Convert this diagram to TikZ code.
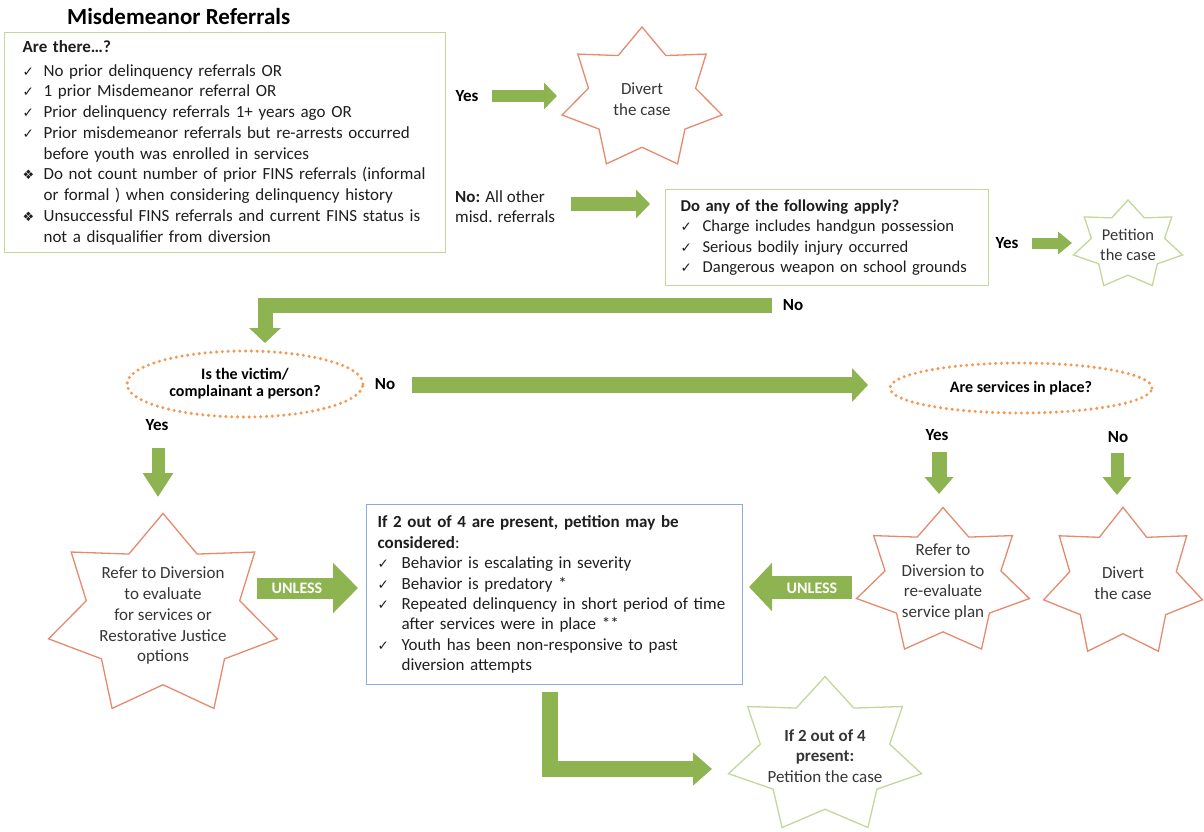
\documentclass[tikz,border=0pt]{standalone}
\usepackage{fontspec}
\setmainfont{Carlito}
\newfontfamily\sym{DejaVu Sans}
\usetikzlibrary{arrows.meta,shapes.geometric,calc}
\definecolor{agreen}{HTML}{8DB450}
\definecolor{olivel}{HTML}{C4D79B}
\definecolor{coral}{HTML}{E58A6E}
\definecolor{dorange}{HTML}{F39A55}
\definecolor{bluebox}{HTML}{8FAADC}
\definecolor{txt}{HTML}{1E1E1E}
\definecolor{stxt}{HTML}{363636}
\newcommand\ck[1][21pt]{\makebox[#1][l]{\sym\fontsize{13.5}{13}\selectfont ✓}}
\newcommand\dmd[1][21pt]{\makebox[#1][l]{\sym\fontsize{13}{13}\selectfont ❖}}
\newcommand\drawstar[4]{%
  \draw[#4, line width=1.3pt, line join=miter, shift={(#1.center)}]
    (90:#2pt and #3pt)
    \foreach \k in {1,...,13}{ -- ({90+\k*180/7}:{(1-0.33*mod(\k,2))*#2*1pt} and {(1-0.33*mod(\k,2))*#3*1pt}) } -- cycle;}
\begin{document}
\begin{tikzpicture}[x=1pt,y=-1pt,
  box/.style={draw=olivel, line width=1.2pt, inner sep=0pt, text=txt, align=left,
    font=\fontsize{17}{20.75}\selectfont},
  lbl/.style={font=\bfseries\fontsize{17}{20}\selectfont, text=black, inner sep=0pt},
  startext/.style={align=center, font=\fontsize{17}{20.75}\selectfont, text=stxt, inner sep=0pt},
  ell/.style={ellipse, draw=dorange, line width=3.4pt, dash pattern=on 0pt off 5.8pt, line cap=round,
    font=\bfseries\fontsize{16}{17}\selectfont, align=center, inner sep=0pt, text=black},
  fat/.style n args={3}{draw=agreen, line join=miter, line width=#1, -{Triangle[length=#2,width=#3]}},
  unl/.style={font=\bfseries\fontsize{16}{18}\selectfont, text=white, inner sep=0pt}]
\fill[white] (0,0) rectangle (1204,832);
\useasboundingbox (0,0) rectangle (1204,832);

% title
\node[font=\bfseries\fontsize{23}{26}\selectfont, anchor=base west, inner sep=0pt, text=black] (title) at (67,25) {Misdemeanor Referrals};

% box 1
\node[box, anchor=north west, minimum width=441pt, minimum height=220pt, text width=405pt, inner xsep=18pt] (q1) at (4,32) {%
\textbf{Are there…?}\\[3pt]
\ck No prior delinquency referrals OR\\
\ck 1 prior Misdemeanor referral OR\\
\ck Prior delinquency referrals 1+ years ago OR\\
\ck Prior misdemeanor referrals but re-arrests occurred\\
\hspace*{21pt}before youth was enrolled in services\\
\dmd Do not count number of prior FINS referrals (informal\\
\hspace*{21pt}or formal ) when considering delinquency history\\
\dmd Unsuccessful FINS referrals and current FINS status is\\
\hspace*{21pt}not a disqualifier from diversion};

% box 2
\node[box, anchor=north west, minimum width=323pt, minimum height=96pt, text width=293pt, inner xsep=15pt,
  font=\fontsize{16.6}{20.3}\selectfont] (q2) at (665,189) {%
\textbf{Do any of the following apply?}\\
\ck[22pt]Charge includes handgun possession\\
\ck[22pt]Serious bodily injury occurred\\
\ck[22pt]Dangerous weapon on school grounds};

% blue box
\node[box, draw=bluebox, anchor=north west, minimum width=376pt, minimum height=180pt, text width=354pt, inner xsep=11pt,
  font=\fontsize{17}{20.4}\selectfont] (q3) at (366,504) {%
\textbf{If 2 out of 4 are present, petition may be}\\
\textbf{considered}:\\
\ck[24pt]Behavior is escalating in severity\\
\ck[24pt]Behavior is predatory *\\
\ck[24pt]Repeated delinquency in short period of time\\
\hspace*{24pt}after services were in place **\\
\ck[24pt]Youth has been non-responsive to past\\
\hspace*{24pt}diversion attempts};

% ellipses
\node[ell, minimum width=236pt, minimum height=66pt] (e1) at (245,384) {Is the victim/\\complainant a person?};
\node[ell, minimum width=262pt, minimum height=50pt] (e2) at (1021,388) {Are services in place?};

% labels
\node[lbl] (yes1) at (467,96) {Yes};
\node[anchor=west, align=left, inner sep=0pt, text=txt, font=\fontsize{17}{20}\selectfont] (no1) at (455,207) {\textbf{No:} All other\\misd. referrals};
\node[lbl] (yes2) at (1007,243) {Yes};
\node[lbl] (no2) at (793,305) {No};
\node[lbl] (no3) at (385,384) {No};
\node[lbl] (yes3) at (157,425) {Yes};
\node[lbl] (yes4) at (937,435) {Yes};
\node[lbl] (no4) at (1118,437) {No};

% stars
\node[startext] (s1) at (642,99) {Divert\\the case};
\node[startext, font=\fontsize{16.5}{20}\selectfont] (s2) at (1128,245) {Petition\\the case};
\node[startext] (s3) at (163,616) {Refer to Diversion\\to evaluate\\for services or\\Restorative Justice\\options};
\node[startext] (s4) at (943,582) {Refer to\\Diversion to\\re-evaluate\\service plan};
\node[startext] (s5) at (1123,583) {Divert\\the case};
\node[startext] (s6) at (825,756) {\textbf{If 2 out of 4}\\\textbf{present:}\\Petition the case};
\drawstar{s1}{82}{72}{coral}
\drawstar{s2}{56}{45}{olivel}
\drawstar{s3}{117.4}{102.6}{coral}
\drawstar{s4}{88.7}{74.4}{coral}
\drawstar{s5}{81.5}{75.7}{coral}
\drawstar{s6}{99}{79.4}{olivel}

% arrow coordinates
\coordinate (a1s) at (492,96);  \coordinate (a1e) at (557,96);
\coordinate (a2s) at (571,204); \coordinate (a2e) at (650,204);
\coordinate (a3s) at (1032,243);\coordinate (a3e) at (1072,243);
\coordinate (a4s) at (772,305); \coordinate (a4e) at (265,343);
\coordinate (a5s) at (412,385); \coordinate (a5e) at (868,385);
\coordinate (a6s) at (158,448); \coordinate (a6e) at (158,497);
\coordinate (a7s) at (939,452); \coordinate (a7e) at (939,494);
\coordinate (a8s) at (1117,453);\coordinate (a8e) at (1117,495);
\coordinate (a9s) at (257,588); \coordinate (a9e) at (358,588);
\coordinate (a10s) at (852,587);\coordinate (a10e) at (749,587);
\coordinate (a11s) at (550,692);\coordinate (a11e) at (712,769);

\draw[fat={12pt}{13pt}{26pt}] (a1s) -- (a1e);
\draw[fat={14pt}{14pt}{28pt}] (a2s) -- (a2e);
\draw[fat={11pt}{14pt}{22pt}] (a3s) -- (a3e);
\draw[fat={15pt}{15pt}{31pt}] (a4s) -| (a4e);
\draw[fat={16pt}{16pt}{33pt}] (a5s) -- (a5e);
\draw[fat={13pt}{24pt}{29pt}] (a6s) -- (a6e);
\draw[fat={15pt}{17pt}{28pt}] (a7s) -- (a7e);
\draw[fat={13pt}{18pt}{28pt}] (a8s) -- (a8e);
\draw[fat={21pt}{25pt}{49pt}] (a9s) -- (a9e);
\draw[fat={23pt}{23pt}{47pt}] (a10s) -- (a10e);
\draw[fat={16pt}{19pt}{32pt}] (a11s) |- (a11e);

\node[unl] (u1) at (297,588) {UNLESS};
\node[unl] (u2) at (812,588) {UNLESS};
\end{tikzpicture}
\end{document}
